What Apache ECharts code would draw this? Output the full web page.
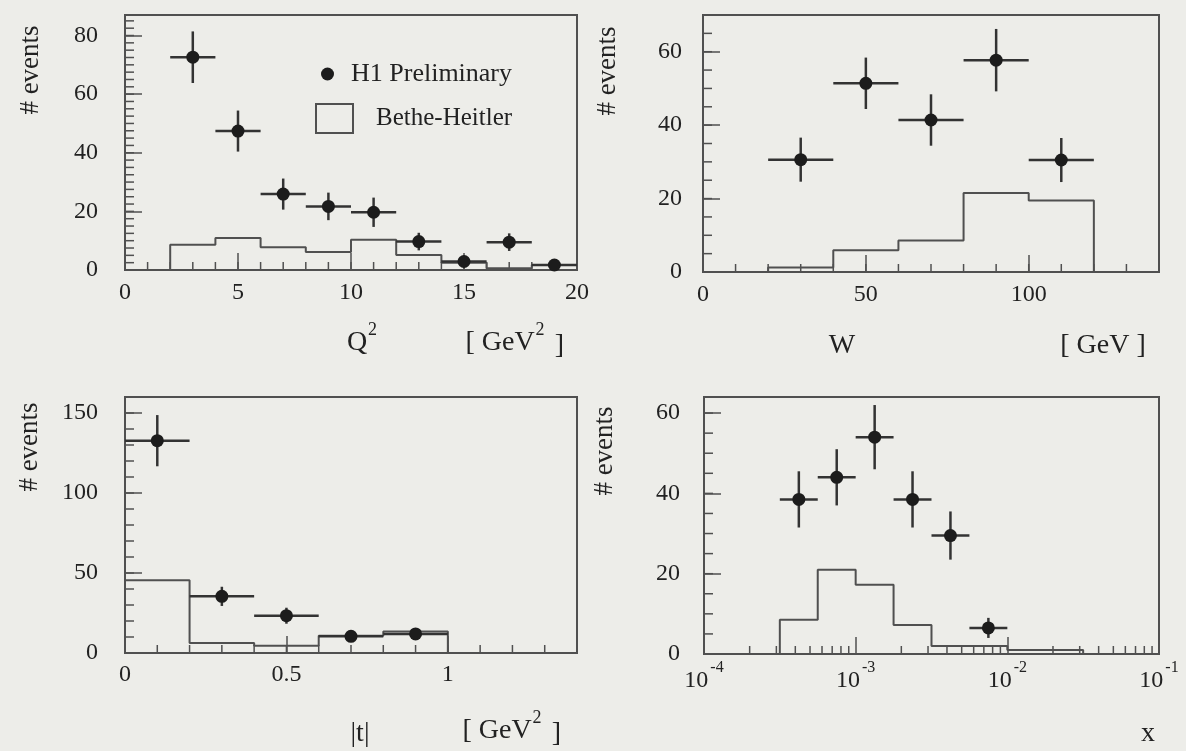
<!DOCTYPE html>
<html><head><meta charset="utf-8">
<script src="https://cdn.jsdelivr.net/npm/echarts@6/dist/echarts.min.js"></script>
<style>html,body{margin:0;padding:0;background:#edede9;} #c{width:1186px;height:751px;}</style>
</head><body><div id="c"></div>
<script>
// ---------- Panel 1 : Q^2 ----------
const q2Centers  = [3, 5, 7, 9, 11, 13, 15, 17, 19];
const q2Events   = [72.6, 47.4, 25.9, 21.7, 19.7, 9.7, 2.9, 9.5, 1.7];
const q2Errors   = [8.8, 7, 5.3, 4.7, 5, 3, 2, 3, 1.5];
const q2BinLow   = [2, 4, 6, 8, 10, 12, 14, 16, 18];
const q2BinHigh  = [4, 6, 8, 10, 12, 14, 16, 18, 20];
const q2BHEdges  = [0, 2, 4, 6, 8, 10, 12, 14, 16, 18, 20];
const q2BHValues = [0, 8.6, 10.9, 7.8, 6.1, 10.3, 5.1, 2.5, 0.6, 1.7];

// ---------- Panel 2 : W ----------
const wCenters  = [30, 50, 70, 90, 110];
const wEvents   = [30.6, 51.4, 41.4, 57.7, 30.5];
const wErrors   = [6, 7, 7, 8.5, 6];
const wBinLow   = [20, 40, 60, 80, 100];
const wBinHigh  = [40, 60, 80, 100, 120];
const wBHEdges  = [20, 40, 60, 80, 100, 120];
const wBHValues = [1.2, 5.9, 8.6, 21.5, 19.5];

// ---------- Panel 3 : |t| ----------
const tCenters  = [0.1, 0.3, 0.5, 0.7, 0.9];
const tEvents   = [132.7, 35.4, 23.3, 10.4, 11.9];
const tErrors   = [16, 6, 5, 3, 3.5];
const tBinLow   = [0, 0.2, 0.4, 0.6, 0.8];
const tBinHigh  = [0.2, 0.4, 0.6, 0.8, 1.0];
const tBHEdges  = [0, 0.2, 0.4, 0.6, 0.8, 1.0];
const tBHValues = [45.4, 6.3, 4.6, 10.8, 13.5];

// ---------- Panel 4 : x (log) ----------
const xCenters  = [4.22e-4, 7.5e-4, 1.334e-3, 2.371e-3, 4.217e-3, 7.5e-3];
const xEvents   = [38.5, 44, 54, 38.5, 29.5, 6.5];
const xErrors   = [7, 7, 8, 7, 6, 2.5];
const xBinLow   = [3.162e-4, 5.623e-4, 1e-3, 1.778e-3, 3.162e-3, 5.623e-3];
const xBinHigh  = [5.623e-4, 1e-3, 1.778e-3, 3.162e-3, 5.623e-3, 1e-2];
const xBHEdges  = [3.162e-4, 5.623e-4, 1e-3, 1.778e-3, 3.162e-3, 5.623e-3, 1e-2, 1.778e-2, 3.162e-2];
const xBHValues = [8.5, 21, 17.25, 7.25, 2, 2, 1, 1];

// ---------- Text ----------
const yTitle = '# events';
const legendData = ['H1 Preliminary', 'Bethe-Heitler'];

const FONT = 'Liberation Serif';
const TXT = '#222222';
const LINE = '#505050';
const BG = '#edede9';

function stepData(edges, values) {
  const d = [[edges[0], 0]];
  for (let i = 0; i < values.length; i++) d.push([edges[i], values[i]]);
  d.push([edges[edges.length - 1], 0]);
  return d;
}
function pointData(c, v) { return c.map((x, i) => [x, v[i]]); }
function errData(c, v, e, lo, hi) { return c.map((x, i) => [x, v[i], e[i], lo[i], hi[i]]); }

function renderErr(params, api) {
  const x = api.value(0), y = api.value(1), e = api.value(2), lo = api.value(3), hi = api.value(4);
  const a = api.coord([lo, y]), b = api.coord([hi, y]);
  const c = api.coord([x, y + e]), d = api.coord([x, Math.max(y - e, 0)]);
  const st = { stroke: '#333', lineWidth: 2.5 };
  return { type: 'group', children: [
    { type: 'line', shape: { x1: a[0], y1: a[1], x2: b[0], y2: b[1] }, style: st },
    { type: 'line', shape: { x1: c[0], y1: c[1], x2: d[0], y2: d[1] }, style: st }
  ]};
}

const grids = [
  { left: 125, top: 15, width: 452, height: 255 },
  { left: 703, top: 15, width: 456, height: 257 },
  { left: 125, top: 397, width: 452, height: 256 },
  { left: 704, top: 397, width: 455, height: 257 }
].map(g => Object.assign(g, { show: true, borderColor: LINE, borderWidth: 2, backgroundColor: 'transparent' }));

function fmtEvery(step) {
  return v => (Math.abs(v / step - Math.round(v / step)) < 1e-6 ? String(+v.toFixed(6)) : '');
}
const labelStyle = { fontFamily: FONT, fontSize: 24, color: TXT };
function valAxis(idx, min, max, interval, margin) {
  return {
    type: 'value', gridIndex: idx, min: min, max: max, interval: interval,
    axisLine: { show: true, lineStyle: { color: LINE, width: 2 } },
    axisTick: { show: true, inside: true, length: 17, lineStyle: { color: LINE, width: 1.5 } },
    splitLine: { show: false },
    axisLabel: Object.assign({ margin: margin, formatter: fmtEvery(interval) }, labelStyle)
  };
}

const xAxes = [
  valAxis(0, 0, 20, 5, 11),
  valAxis(1, 0, 140, 50, 11),
  valAxis(2, 0, 1.4, 0.5, 10),
  {
    type: 'log', gridIndex: 3, min: 1e-4, max: 1e-1, logBase: 10,
    axisLine: { show: true, lineStyle: { color: LINE, width: 2 } },
    axisTick: { show: true, inside: true, length: 17, lineStyle: { color: LINE, width: 1.5 } },
    splitLine: { show: false },
    axisLabel: {
      margin: 15,
      formatter: v => '{b|10}{s|' + Math.round(Math.log10(v)) + '}',
      rich: {
        b: { fontFamily: FONT, fontSize: 24, color: TXT, lineHeight: 24, verticalAlign: 'bottom' },
        s: { fontFamily: FONT, fontSize: 16, color: TXT, lineHeight: 16, verticalAlign: 'bottom', padding: [0, 0, 17, 2] }
      }
    }
  }
];
const yAxes = [
  valAxis(0, 0, 87, 20, 27),
  valAxis(1, 0, 70, 20, 21),
  valAxis(2, 0, 160, 50, 27),
  valAxis(3, 0, 64, 20, 24)
];

const panels = [
  [q2Centers, q2Events, q2Errors, q2BinLow, q2BinHigh, q2BHEdges, q2BHValues],
  [wCenters, wEvents, wErrors, wBinLow, wBinHigh, wBHEdges, wBHValues],
  [tCenters, tEvents, tErrors, tBinLow, tBinHigh, tBHEdges, tBHValues],
  [xCenters, xEvents, xErrors, xBinLow, xBinHigh, xBHEdges, xBHValues]
];
const series = [];
panels.forEach((p, i) => {
  series.push({
    name: legendData[1], type: 'line', xAxisIndex: i, yAxisIndex: i, step: 'end',
    data: stepData(p[5], p[6]), symbol: 'none', showSymbol: false,
    lineStyle: { color: LINE, width: 2 }, itemStyle: { color: LINE }, z: 2, silent: true
  });
  series.push({
    name: 'H1 errors', type: 'custom', xAxisIndex: i, yAxisIndex: i,
    renderItem: renderErr, encode: { x: 0, y: 1 },
    data: errData(p[0], p[1], p[2], p[3], p[4]), z: 3, silent: true
  });
  series.push({
    name: legendData[0], type: 'scatter', xAxisIndex: i, yAxisIndex: i,
    data: pointData(p[0], p[1]), symbol: 'circle', symbolSize: 13,
    itemStyle: { color: '#1c1c1c', opacity: 1 }, z: 4, silent: true
  });
});

function supText(base, sup, x, y, size) {
  return {
    type: 'text', x: x, y: y, silent: true,
    style: {
      text: '{m|' + base + '}' + (sup ? '{s|' + sup + '}' : ''),
      align: 'center', verticalAlign: 'middle',
      rich: {
        m: { fontFamily: FONT, fontSize: size, fill: TXT, lineHeight: 30, verticalAlign: 'bottom' },
        s: { fontFamily: FONT, fontSize: 18, fill: TXT, lineHeight: 18, verticalAlign: 'bottom', padding: [0, 0, 18, 1] }
      }
    }
  };
}
function evText(x, y) {
  return {
    type: 'text', x: x, y: y, rotation: Math.PI / 2, silent: true,
    style: { text: yTitle, fontFamily: FONT, fontSize: 27, fill: TXT, align: 'center', verticalAlign: 'middle' }
  };
}
const titles = [
  evText(31, 70), evText(608, 71), evText(30, 447), evText(605, 451),
  supText('Q', '2', 362, 342, 28),
  supText('[ GeV', '2', 505, 342, 28), supText(' ]', '', 556, 345, 28),
  supText('W', '', 842, 345, 28),
  supText('[ GeV ]', '', 1103, 345, 28),
  supText('|t|', '', 360, 733, 28),
  supText('[ GeV', '2', 502, 730, 28), supText(' ]', '', 553, 733, 28),
  supText('x', '', 1148, 733, 28)
];

const chart = echarts.init(document.getElementById('c'), null, { renderer: 'canvas' });
chart.setOption({
  backgroundColor: BG,
  animation: false,
  grid: grids,
  xAxis: xAxes,
  yAxis: yAxes,
  legend: [
    {
      data: [{ name: legendData[0], icon: 'circle' }], left: 321, top: 61, padding: 0,
      itemWidth: 13, itemHeight: 13, selectedMode: false,
      textStyle: { fontFamily: FONT, fontSize: 26, color: TXT, padding: [0, 0, 0, 12] }
    },
    {
      data: [{ name: legendData[1], icon: 'rect' }], left: 315, top: 103, padding: 0,
      itemWidth: 37, itemHeight: 29, selectedMode: false,
      itemStyle: { color: 'rgba(0,0,0,0)', borderColor: LINE, borderWidth: 2 },
      textStyle: { fontFamily: FONT, fontSize: 25, color: TXT, padding: [0, 0, 0, 18] }
    }
  ],
  series: series,
  graphic: titles
});

// minor ticks, positioned through the axes' own scales
function range(a, b, s) { const r = []; for (let v = a; v <= b + 1e-9; v += s) r.push(+v.toFixed(6)); return r; }
const minorX = [range(0, 20, 1), range(0, 140, 10), range(0, 1.4, 0.1), null];
const minorY = [range(0, 87, 2.5), range(0, 70, 5), range(0, 160, 10), range(0, 64, 5)];
const xMins = [0, 0, 0, 1e-4];
const logMinor = [];
for (let n = -4; n < -1; n++) for (let k = 2; k <= 9; k++) logMinor.push(k * Math.pow(10, n));
minorX[3] = logMinor;
const tickEls = [];
const tst = { stroke: LINE, lineWidth: 1.5 };
for (let g = 0; g < 4; g++) {
  minorX[g].forEach(v => {
    const p = chart.convertToPixel({ gridIndex: g }, [v, 0]);
    tickEls.push({ type: 'line', silent: true, shape: { x1: p[0], y1: p[1], x2: p[0], y2: p[1] - 8 }, style: tst });
  });
  minorY[g].forEach(v => {
    const p = chart.convertToPixel({ gridIndex: g }, [xMins[g], v]);
    tickEls.push({ type: 'line', silent: true, shape: { x1: p[0], y1: p[1], x2: p[0] + 9, y2: p[1] }, style: tst });
  });
}
chart.setOption({ graphic: titles.concat(tickEls) });
</script></body></html>
